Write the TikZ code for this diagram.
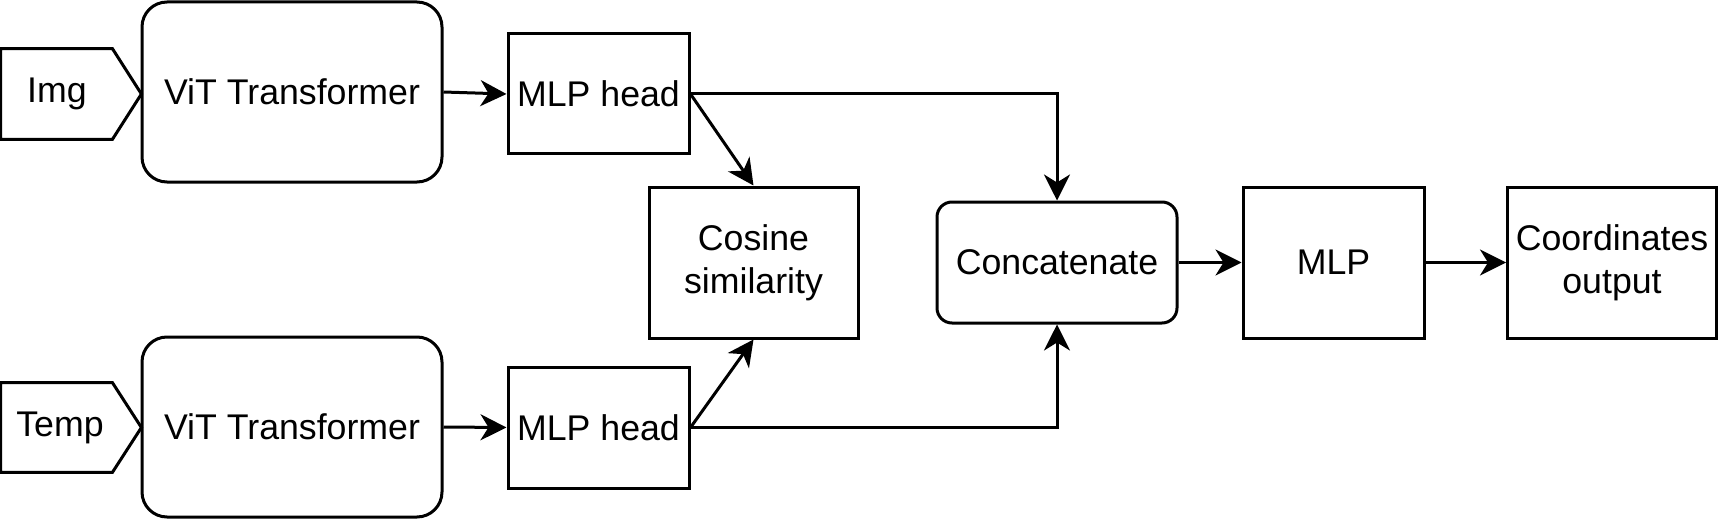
\documentclass[tikz,border=0pt]{standalone}
\usepackage{fontspec}
\setmainfont{Liberation Sans}
\usetikzlibrary{arrows.meta}
\begin{document}
\begin{tikzpicture}[x=0.5pt,y=-0.5pt,
  every node/.style={font=\fontsize{17.85}{21.3}\selectfont, align=center, inner sep=0pt},
  box/.style={draw, line width=1.5pt, minimum width=#1},
  rbox/.style={draw, line width=1.5pt, rounded corners=#1},
  conn/.style={draw, line width=1.5pt, -{Stealth[length=13pt,width=13pt,inset=4pt]}},
  shp/.style={draw, line width=1.5pt, line join=miter}]
\useasboundingbox (0,0) rectangle (1719,519);
% input shapes (pentagons)
\node[minimum width=70pt, minimum height=45pt] (img) at (71,94) {};
\node (imglbl) at (57,94) {Img};
\path[shp] (img.north west) -- ([xshift=-14.5pt]img.north east) -- (img.east) -- ([xshift=-14.5pt]img.south east) -- (img.south west) -- cycle;
\node[minimum width=70pt, minimum height=44.5pt] (temp) at (71,427.5) {};
\node (templbl) at (60,427.5) {Temp};
\path[shp] (temp.north west) -- ([xshift=-14.5pt]temp.north east) -- (temp.east) -- ([xshift=-14.5pt]temp.south east) -- (temp.south west) -- cycle;
% transformers
\node[rbox=12.5pt, minimum width=150pt, minimum height=90pt] (vit1) at (292,92) {ViT Transformer};
\node[rbox=12.5pt, minimum width=150pt, minimum height=90pt] (vit2) at (292,427) {ViT Transformer};
% heads
\node[box=90.5pt, minimum height=60pt] (mlp1) at (598.5,94) {MLP head};
\node[box=90.5pt, minimum height=60.5pt] (mlp2) at (598.5,427.5) {MLP head};
% cosine
\node[box=104.5pt, minimum height=75.5pt] (cos) at (753.5,262.5) {Cosine\\similarity};
% concat
\node[rbox=7.5pt, minimum width=120pt, minimum height=60.5pt] (concat) at (1057,262.5) {Concatenate};
% mlp
\node[box=90.5pt, minimum height=75.5pt] (mlp) at (1333.5,262.5) {MLP};
% output
\node[box=104.5pt, minimum height=75.5pt] (coord) at (1612,262.5) {Coordinates\\output};
% connectors
\path[conn] (vit1.east) -- (mlp1.west);
\path[conn] (vit2.east) -- (mlp2.west);
\path[conn] (mlp1.east) -- (cos.north);
\path[conn] (mlp2.east) -- (cos.south);
\path[conn] (mlp1.east) -| (concat.north);
\path[conn] (mlp2.east) -| (concat.south);
\path[conn] (concat.east) -- (mlp.west);
\path[conn] (mlp.east) -- (coord.west);
\end{tikzpicture}
\end{document}
